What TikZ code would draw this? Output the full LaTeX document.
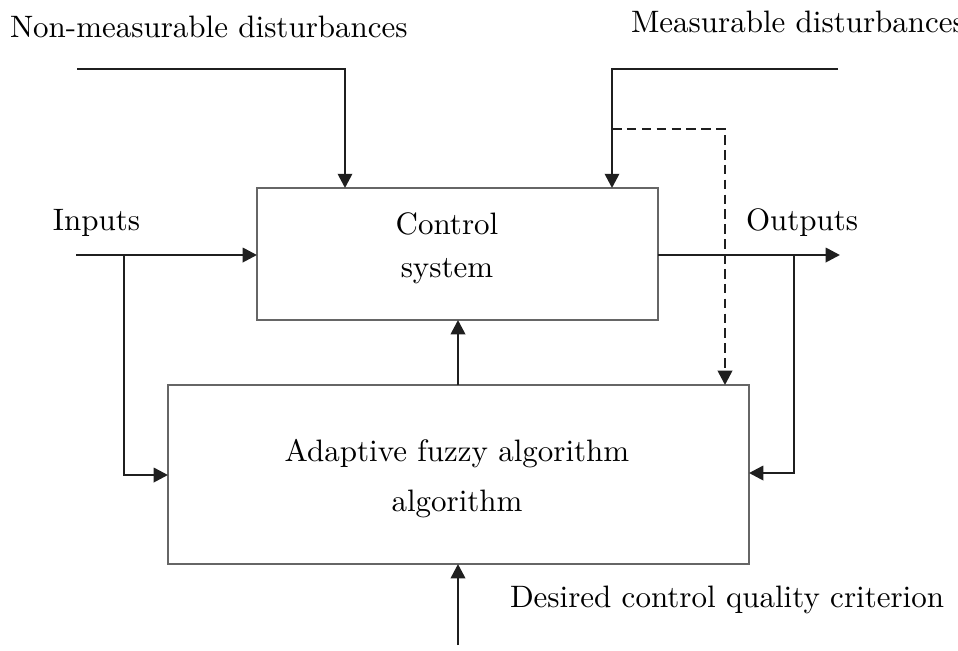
\documentclass[tikz,border=0pt]{standalone}
\usetikzlibrary{arrows.meta}

\tikzset{
  blk/.style={draw=black!60, line width=0.45pt, inner sep=0pt, outer sep=0pt},
  conn/.style={line width=0.85pt, draw=black!88, -{Triangle[length=4.6pt,width=4.6pt]}},
  dashconn/.style={conn, dash pattern=on 3.1pt off 1.7pt},
  lbl/.style={inner sep=0pt, outer sep=0pt, anchor=base, font=\normalsize},
  lblw/.style={lbl, anchor=base west},
}

\begin{document}
\begin{tikzpicture}[x=0.3226pt, y=-0.3226pt]
  \useasboundingbox (0,0) rectangle (958,650);

  % blocks
  \node[blk, minimum width=129.36pt, minimum height=42.58pt] (box1) at (457.5,254) {};
  \node[blk, minimum width=187.43pt, minimum height=57.75pt] (box2) at (458.5,474.5) {};

  % block texts
  \node[lbl] (cs1) at (447,234) {Control};
  \node[lbl] (cs2) at (447,277) {system};
  \node[lbl] (af1) at (457,461) {Adaptive fuzzy algorithm};
  \node[lbl] (af2) at (457,511) {algorithm};

  % outer labels
  \node[lblw] (tnm) at (10,37) {Non-measurable disturbances};
  \node[lblw] (tm) at (631,32) {Measurable disturbances};
  \node[lblw] (tin) at (53,230) {Inputs};
  \node[lblw] (tout) at (746,230) {Outputs};
  \node[lblw] (tdc) at (510,607) {Desired control quality criterion};

  % connector points
  \coordinate (nmd) at (77,69);
  \coordinate (tl)  at (345,69);
  \coordinate (md)  at (838,69);
  \coordinate (tr)  at (612,69);
  \coordinate (dj)  at (612,129);
  \coordinate (dk)  at (725,129);
  \coordinate (in)  at (76,255);
  \coordinate (ij)  at (124,255);
  \coordinate (ib)  at (124,475);
  \coordinate (out) at (840,255);
  \coordinate (oj)  at (794,255);
  \coordinate (ob)  at (794,473);
  \coordinate (mid) at (458,0);
  \coordinate (crit) at (458,645);

  % disturbances
  \draw[conn] (nmd) -- (tl) -- (tl |- box1.north);
  \draw[conn] (md) -- (tr) -- (tr |- box1.north);
  \draw[dashconn] (dj) -- (dk) -- (dk |- box2.north);

  % inputs
  \draw[conn] (in) -- (in -| box1.west);
  \draw[conn] (ij) -- (ib) -- (ib -| box2.west);

  % outputs
  \draw[conn] (out -| box1.east) -- (out);
  \draw[conn] (oj) -- (ob) -- (ob -| box2.east);

  % adaptation and criterion
  \draw[conn] (mid |- box2.north) -- (mid |- box1.south);
  \draw[conn] (crit) -- (crit |- box2.south);
\end{tikzpicture}
\end{document}
